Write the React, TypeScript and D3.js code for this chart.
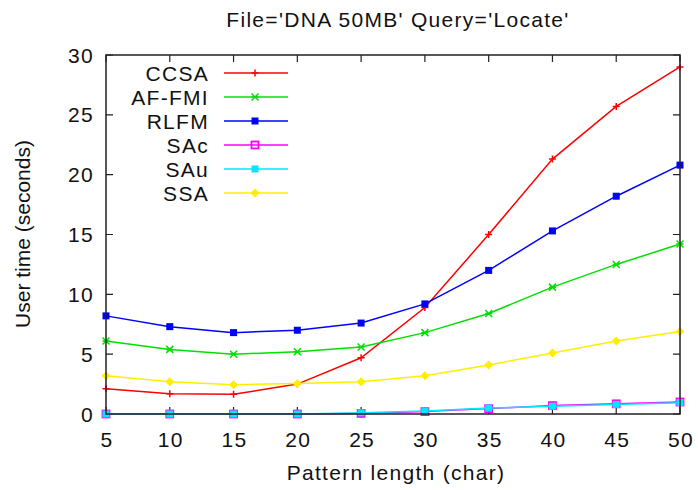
import { line, scaleLinear } from "d3";

const W = 698;
const H = 490;
const M = { top: 55, right: 18, bottom: 76, left: 106 };

const patternLengths = [5, 10, 15, 20, 25, 30, 35, 40, 45, 50];
const yTickValues = [0, 5, 10, 15, 20, 25, 30];

const ccsa = [2.1, 1.7, 1.65, 2.5, 4.7, 8.9, 15.0, 21.3, 25.7, 29.0];
const afFmi = [6.1, 5.4, 5.0, 5.2, 5.6, 6.8, 8.4, 10.6, 12.5, 14.2];
const rlfm = [8.2, 7.3, 6.8, 7.0, 7.6, 9.2, 12.0, 15.3, 18.2, 20.8];
const sac = [0.0, 0.0, 0.0, 0.0, 0.05, 0.2, 0.45, 0.7, 0.85, 1.0];
const sau = [0.0, 0.0, 0.0, 0.0, 0.1, 0.25, 0.5, 0.65, 0.8, 0.95];
const ssa = [3.2, 2.7, 2.45, 2.55, 2.7, 3.2, 4.1, 5.1, 6.1, 6.9];

type Marker = "plus" | "cross" | "fsquare" | "osquare" | "diamond";

const series: { name: string; values: number[]; color: string; marker: Marker }[] = [
  { name: "CCSA", values: ccsa, color: "#ff0000", marker: "plus" },
  { name: "AF-FMI", values: afFmi, color: "#00e000", marker: "cross" },
  { name: "RLFM", values: rlfm, color: "#0000ff", marker: "fsquare" },
  { name: "SAc", values: sac, color: "#ff00ff", marker: "osquare" },
  { name: "SAu", values: sau, color: "#00e8ff", marker: "fsquare" },
  { name: "SSA", values: ssa, color: "#ffee00", marker: "diamond" },
];

const FONT = "'Liberation Sans', Arial, sans-serif";
const FS = 21;
const LS = 1.3;

function Point({ x, y, kind, color }: { x: number; y: number; kind: Marker; color: string }) {
  const s = 3.5;
  switch (kind) {
    case "plus":
      return <path d={`M${x - s},${y}H${x + s}M${x},${y - s}V${y + s}`} stroke={color} strokeWidth={1.5} />;
    case "cross":
      return (
        <path
          d={`M${x - s},${y - s}L${x + s},${y + s}M${x - s},${y + s}L${x + s},${y - s}M${x - s},${y}H${x + s}`}
          stroke={color}
          strokeWidth={1.5}
        />
      );
    case "fsquare":
      return <rect x={x - s} y={y - s} width={2 * s} height={2 * s} fill={color} />;
    case "osquare":
      return <rect x={x - s} y={y - s} width={2 * s} height={2 * s} fill="none" stroke={color} strokeWidth={1.8} />;
    case "diamond":
      return <path d={`M${x},${y - s - 1}L${x + s + 1},${y}L${x},${y + s + 1}L${x - s - 1},${y}Z`} fill={color} />;
  }
}

export default function App() {
  const x = scaleLinear().domain([5, 50]).range([M.left, W - M.right]);
  const y = scaleLinear().domain([0, 30]).range([H - M.bottom, M.top]);
  const mk = (vals: number[]) =>
    line<number>()
      .x((_, i) => x(patternLengths[i]))
      .y((v) => y(v))(vals) ?? "";
  const tk = 7;
  const legendY = scaleLinear().domain([0, 5]).range([73, 193]);

  return (
    <svg
      width={W}
      height={H}
      style={{ position: "absolute", left: 0, top: 0, background: "#fff" }}
      fontFamily={FONT}
      fontSize={FS}
      letterSpacing={LS}
      fill="#111"
    >
      <text x={398} y={27} textAnchor="middle">
        File='DNA 50MB' Query='Locate'
      </text>

      {yTickValues.map((t) => (
        <g key={`y${t}`}>
          <path d={`M${M.left},${y(t)}h${tk}M${W - M.right},${y(t)}h${-tk}`} stroke="#222" strokeWidth={1.2} />
          <text x={M.left - 12} y={y(t)} dy="0.36em" textAnchor="end">
            {t}
          </text>
        </g>
      ))}
      {patternLengths.map((t) => (
        <g key={`x${t}`}>
          <path d={`M${x(t)},${H - M.bottom}v${-tk}M${x(t)},${M.top}v${tk}`} stroke="#222" strokeWidth={1.2} />
          <text x={x(t) + 1} y={H - M.bottom + 33} textAnchor="middle">
            {t}
          </text>
        </g>
      ))}

      <text x={396} y={480} textAnchor="middle">
        Pattern length (char)
      </text>
      <text transform="translate(30,234) rotate(-90)" textAnchor="middle" letterSpacing={0}>
        User time (seconds)
      </text>

      {series.map((s) => (
        <g key={s.name}>
          <path d={mk(s.values)} fill="none" stroke={s.color} strokeWidth={1.5} />
          {s.values.map((v, i) => (
            <Point key={i} x={x(patternLengths[i])} y={y(v)} kind={s.marker} color={s.color} />
          ))}
        </g>
      ))}

      {series.map((s, i) => (
        <g key={`leg${s.name}`}>
          <text x={209} y={legendY(i)} dy="0.36em" textAnchor="end">
            {s.name}
          </text>
          <line x1={224} x2={288} y1={legendY(i)} y2={legendY(i)} stroke={s.color} strokeWidth={1.5} />
          <Point x={255} y={legendY(i)} kind={s.marker} color={s.color} />
        </g>
      ))}

      <rect
        x={M.left}
        y={M.top}
        width={W - M.left - M.right}
        height={H - M.top - M.bottom}
        fill="none"
        stroke="#222"
        strokeWidth={1.5}
      />
    </svg>
  );
}
